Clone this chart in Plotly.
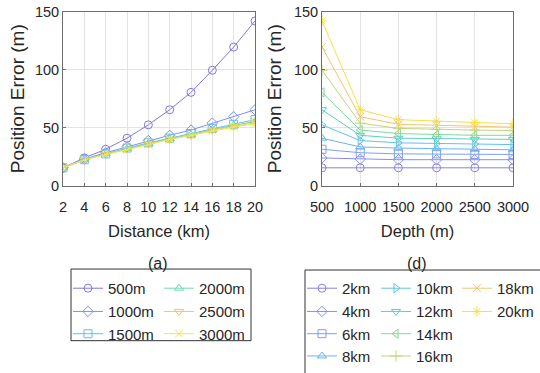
import plotly.graph_objects as go

W, H = 540, 373


def px(x):
    return x / W


def py(y):
    return 1 - y / H


distances = [2, 4, 6, 8, 10, 12, 14, 16, 18, 20]
depths = [500, 1000, 1500, 2000, 2500, 3000]

err_500m = [15.5, 24, 31.5, 41, 52.5, 65.5, 80.5, 99.5, 119.5, 142]
err_1000m = [15.5, 23, 28.5, 33.5, 39, 43.5, 48, 54, 59.5, 65.5]
err_1500m = [15.5, 22.5, 27.5, 32.5, 37, 41, 45, 49.5, 53, 57]
err_2000m = [15.5, 22.5, 27.5, 32, 36.5, 40.5, 44, 48.5, 52, 55.5]
err_2500m = [15.5, 22.5, 27, 31.5, 36, 40, 43.5, 48, 51, 54.5]
err_3000m = [15.5, 22.5, 27, 31, 35.5, 40, 43.5, 47.5, 50.5, 53.5]

depth_names = ["500m", "1000m", "1500m", "2000m", "2500m", "3000m"]
dist_names = ["2km", "4km", "6km", "8km", "10km", "12km", "14km", "16km", "18km", "20km"]
series_by_depth = [err_500m, err_1000m, err_1500m, err_2000m, err_2500m, err_3000m]

left_colors = ["#8478dc", "#8190ee", "#62bdec", "#72d9b2", "#e3cb66", "#f2e84c"]
left_symbols = ["circle-open", "diamond-open", "square-open", "triangle-up-open",
                "triangle-down-open", "x-thin-open"]
right_colors = ["#8c80e0", "#8a8cec", "#7fa0f0", "#6cb2f0", "#5ec4ea", "#5ccfc6",
                "#80d89c", "#c0d67c", "#f5c46c", "#f5e044"]
right_symbols = ["circle-open", "diamond-open", "square-open", "triangle-up-open",
                 "triangle-right-open", "triangle-down-open", "triangle-left-open",
                 "cross-thin-open", "x-thin-open", "asterisk-open"]

FONT = "Liberation Sans, Arial, sans-serif"
TXT = "#262626"
FS_TICK = 14.5
FS_XT = 16.5
FS_YT = 19
FS_LEG = 15

# legend slot positions (marker centre x, row centre y) in window pixels
left_slots = [(90, 291), (90, 315), (90, 338), (181, 291), (181, 315), (181, 338)]
right_slots = [(324, 291), (324, 315), (324, 338), (324, 361),
               (398, 291), (398, 315), (398, 338), (398, 361),
               (479, 291), (479, 315)]
LEG_DX, LEG_DY = 22, 10

fig = go.Figure()
legends = {}
k = 0

for i, name in enumerate(depth_names):
    k += 1
    lname = "legend" if k == 1 else f"legend{k}"
    fig.add_trace(go.Scatter(
        x=distances, y=series_by_depth[i], name=name, mode="lines+markers",
        line=dict(color=left_colors[i], width=1),
        marker=dict(symbol=left_symbols[i], size=8, color=left_colors[i],
                    line=dict(width=1, color=left_colors[i])),
        xaxis="x", yaxis="y", legend=lname, showlegend=True,
    ))
    legends[lname] = left_slots[i]

for j, name in enumerate(dist_names):
    k += 1
    lname = f"legend{k}"
    ys = [series_by_depth[i][j] for i in range(len(depths))]
    fig.add_trace(go.Scatter(
        x=depths, y=ys, name=name, mode="lines+markers",
        line=dict(color=right_colors[j], width=1),
        marker=dict(symbol=right_symbols[j], size=8, color=right_colors[j],
                    line=dict(width=1, color=right_colors[j])),
        xaxis="x2", yaxis="y2", legend=lname, showlegend=True,
    ))
    legends[lname] = right_slots[j]

axis_common = dict(
    showline=True, mirror=True, linecolor="#6e6e6e", linewidth=1,
    showgrid=True, gridcolor="#e3e3e3", gridwidth=1,
    ticks="inside", ticklen=3, tickcolor="#6e6e6e", automargin=False,
    zeroline=False, tickfont=dict(family=FONT, size=FS_TICK, color=TXT), tickangle=0,
)
xt_font = dict(family=FONT, size=FS_XT, color=TXT)
yt_font = dict(family=FONT, size=FS_YT, color=TXT)

y0, y1 = py(192), py(12)

fig.update_layout(
    width=W, height=H, margin=dict(l=0, r=0, t=0, b=0),
    paper_bgcolor="white", plot_bgcolor="white", showlegend=True,
    font=dict(family=FONT, color=TXT),
    xaxis=dict(domain=[px(63), px(255)], range=[2, 20], tickvals=distances,
               ticklabelstandoff=8,
               title=dict(text="Distance (km)", standoff=11, font=xt_font), anchor="y", **axis_common),
    yaxis=dict(domain=[y0, y1], range=[0, 150], tickvals=[0, 50, 100, 150],
               title=dict(text="Position Error (m)", standoff=5, font=yt_font), anchor="x", **axis_common),
    xaxis2=dict(domain=[px(322), px(513)], range=[500, 3000], tickvals=depths,
                ticklabelstandoff=8,
                title=dict(text="Depth (m)", standoff=11, font=xt_font), anchor="y2", **axis_common),
    yaxis2=dict(domain=[y0, y1], range=[0, 150], tickvals=[0, 50, 100, 150],
                title=dict(text="Position Error (m)", standoff=7, font=yt_font), anchor="x2", **axis_common),
)

leg_layout = {}
for lname, (cx, cy) in legends.items():
    leg_layout[lname] = dict(
        bgcolor="rgba(0,0,0,0)", borderwidth=0, xanchor="left", yanchor="top",
        font=dict(family=FONT, size=FS_LEG, color=TXT), itemwidth=30,
        x=px(cx - LEG_DX), y=py(cy - LEG_DY))
fig.update_layout(**leg_layout)

fig.add_shape(type="rect", xref="paper", yref="paper",
              x0=px(71), x1=px(251), y0=py(352), y1=py(278),
              line=dict(color="#333333", width=1))
fig.add_shape(type="rect", xref="paper", yref="paper",
              x0=px(305), x1=1.05, y0=-0.05, y1=py(279),
              line=dict(color="#333333", width=1))

fig.add_annotation(text="(a)", xref="paper", yref="paper", x=px(158), y=py(272),
                   xanchor="center", yanchor="middle",
                   showarrow=False, font=dict(family=FONT, size=16, color=TXT))
fig.add_annotation(text="(d)", xref="paper", yref="paper", x=px(417), y=py(272),
                   xanchor="center", yanchor="middle",
                   showarrow=False, font=dict(family=FONT, size=16, color=TXT))

# remove the browser's default 8px body margin so the figure fills the window
fig.write_html("out.html", config={"displayModeBar": False},
               post_script="document.body.style.margin='0';")
